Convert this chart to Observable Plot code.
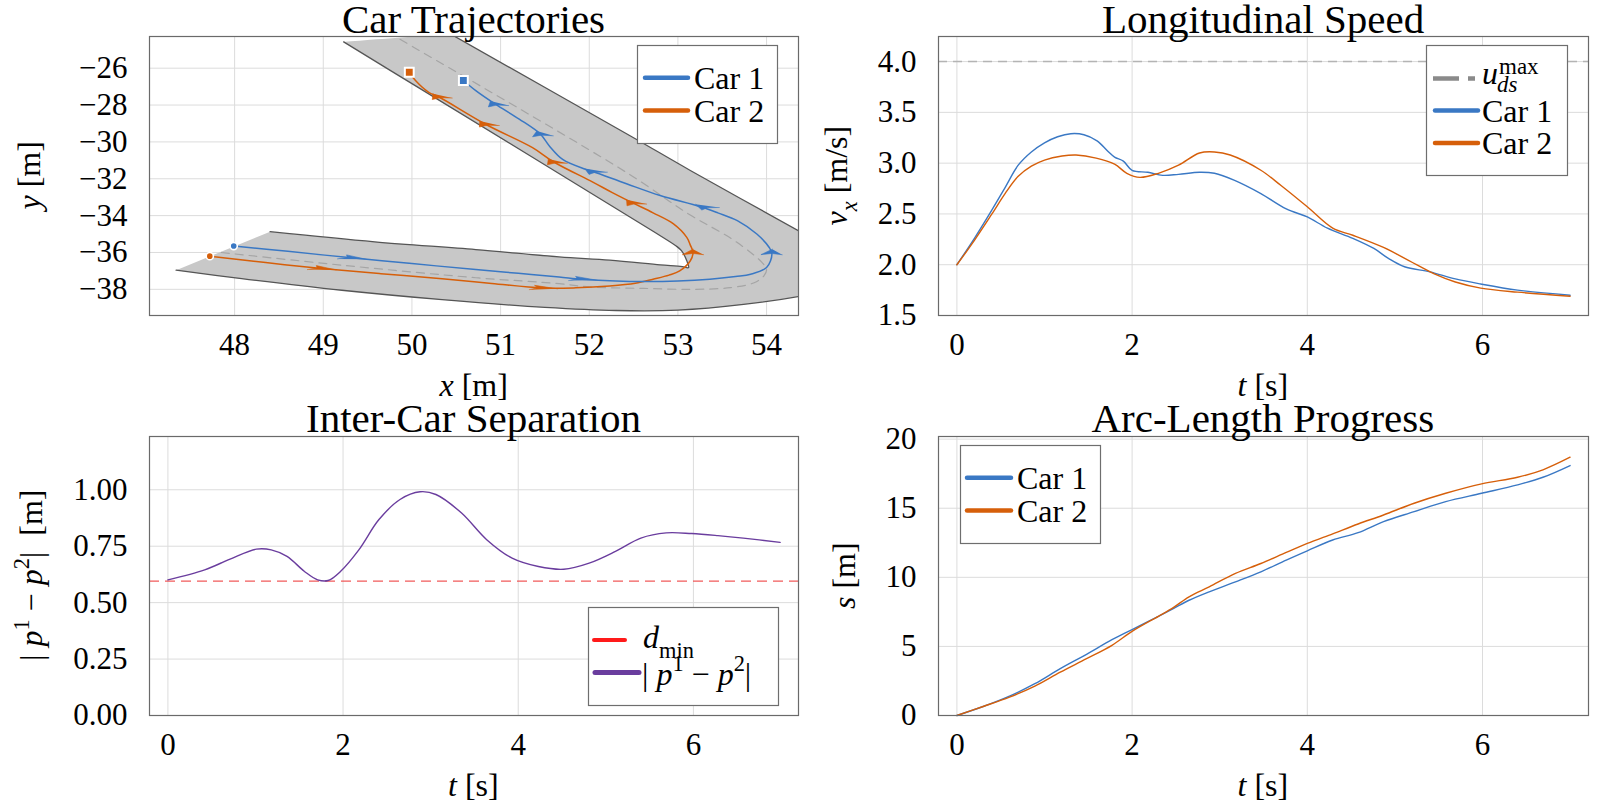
<!DOCTYPE html>
<html><head><meta charset="utf-8">
<script src="https://cdn.jsdelivr.net/npm/d3@7"></script>
<script src="https://cdn.jsdelivr.net/npm/@observablehq/plot@0.6"></script>
<style>
body{margin:0;background:#fff}
#root{position:relative;width:1600px;height:800px;overflow:hidden;background:#fff;font-family:"Liberation Serif",serif}
.ht{position:absolute;left:0;top:0;white-space:nowrap;line-height:1;transform-origin:0 0;color:#000}
.ht sub,.ht sup{font-size:70%;line-height:0}
</style></head>
<body><div id="root"></div>
<script>
// ---------------- DATA ----------------
// Road geometry (m)
const roadOuterX = [47.34, 48.08, 49.21, 50.34, 51.5, 52.3, 53.0, 53.74, 54.39, 55.0, 55.2, 55.0, 54.7, 54.39, 53.14, 52.47, 50.43];
const roadOuterY = [-36.96, -37.42, -38.05, -38.56, -38.98, -39.15, -39.13, -38.82, -38.36, -37.7, -36.8, -36.2, -35.74, -34.9, -31.55, -29.69, -24.13];
const roadInnerX = [48.4, 49.58, 50.72, 51.66, 52.23, 52.8, 53.05, 53.12, 53.1, 53.04, 52.98, 52.72, 50.0, 49.23];
const roadInnerY = [-34.87, -35.42, -35.84, -36.24, -36.42, -36.67, -36.77, -36.82, -36.45, -35.9, -35.65, -34.85, -26.84, -24.57];
const centerX = [47.85, 49.21, 50.72, 51.66, 52.0, 52.61, 53.17, 53.59, 53.86, 53.97, 54.0, 53.95, 53.82, 53.58, 53.12, 52.43, 49.83, 49.75];
const centerY = [-36.0, -36.69, -37.37, -37.69, -37.87, -37.95, -38.0, -37.91, -37.64, -37.27, -36.91, -36.55, -36.0, -35.18, -33.91, -31.69, -24.33, -24.1];
// Trajectories
const car1X = [47.99, 48.6, 49.32, 50.0, 50.72, 51.2, 51.66, 51.92, 52.3, 52.61, 53.0, 53.36, 53.65, 53.82, 54.0, 54.06, 54.03, 53.89, 53.67, 53.45, 53.25, 52.8, 52.42, 52.04, 51.96, 51.7, 51.55, 51.45, 51.21, 50.94, 50.72, 50.58];
const car1Y = [-35.65, -35.94, -36.29, -36.6, -36.93, -37.13, -37.33, -37.45, -37.55, -37.58, -37.55, -37.45, -37.3, -37.18, -36.82, -36.09, -35.73, -35.0, -34.27, -33.85, -33.51, -32.91, -32.27, -31.61, -31.49, -30.95, -30.22, -29.58, -28.76, -27.95, -27.22, -26.67];
const car2X = [47.72, 48.35, 48.98, 49.65, 50.34, 50.9, 51.47, 51.85, 52.23, 52.52, 52.72, 52.9, 53.02, 53.14, 53.17, 53.14, 53.1, 52.95, 52.72, 52.49, 52.26, 52.04, 51.6, 51.36, 50.83, 50.3, 50.19, 50.04, 49.97];
const car2Y = [-36.2, -36.55, -36.87, -37.15, -37.42, -37.68, -37.93, -37.92, -37.82, -37.67, -37.45, -37.23, -37.0, -36.45, -36.0, -35.6, -35.18, -34.45, -33.85, -33.31, -32.75, -32.18, -31.09, -30.31, -29.04, -27.55, -27.31, -26.67, -26.22];
const arrows1X = [49.32, 51.92, 54.06, 53.3, 52.04, 51.45, 50.94];
const arrows1Y = [-36.29, -37.45, -36.0, -33.53, -31.6, -29.58, -27.95];
const arrows2X = [48.98, 51.47, 53.17, 52.49, 51.6, 50.83, 50.3];
const arrows2Y = [-36.87, -37.93, -36.0, -33.31, -31.09, -29.04, -27.55];
// Longitudinal speed
const speedT1 = [0, 0.2, 0.4, 0.55, 0.7, 0.85, 1.0, 1.15, 1.3, 1.45, 1.6, 1.72, 1.8, 1.9, 2.0, 2.18, 2.35, 2.53, 2.77, 2.94, 3.17, 3.47, 3.76, 4.0, 4.23, 4.52, 4.76, 4.93, 5.11, 5.4, 5.69, 5.98, 6.4, 7.0];
const speedV1 = [2.0, 2.26, 2.54, 2.76, 2.98, 3.11, 3.2, 3.26, 3.29, 3.28, 3.22, 3.12, 3.06, 3.02, 2.93, 2.91, 2.88, 2.89, 2.91, 2.9, 2.83, 2.7, 2.55, 2.47, 2.36, 2.26, 2.16, 2.06, 1.98, 1.93, 1.86, 1.81, 1.75, 1.70];
const speedT2 = [0, 0.2, 0.4, 0.55, 0.7, 0.85, 1.0, 1.2, 1.36, 1.59, 1.8, 1.94, 2.09, 2.3, 2.53, 2.77, 2.94, 3.12, 3.47, 3.7, 4.0, 4.29, 4.52, 4.87, 5.16, 5.45, 5.69, 5.98, 6.4, 7.0];
const speedV2 = [2.0, 2.24, 2.5, 2.7, 2.87, 2.97, 3.03, 3.07, 3.08, 3.05, 2.99, 2.9, 2.86, 2.9, 2.98, 3.10, 3.11, 3.08, 2.93, 2.78, 2.57, 2.36, 2.29, 2.17, 2.04, 1.91, 1.83, 1.77, 1.73, 1.69];
const uMax = 4.0;
// Inter-car separation
const sepT = [0, 0.42, 0.71, 1.01, 1.18, 1.36, 1.56, 1.71, 1.83, 1.97, 2.18, 2.41, 2.65, 2.88, 3.06, 3.35, 3.64, 3.93, 4.23, 4.52, 4.81, 5.11, 5.4, 5.69, 5.98, 6.28, 6.57, 6.99];
const sepD = [0.601, 0.645, 0.693, 0.737, 0.734, 0.705, 0.638, 0.601, 0.598, 0.638, 0.734, 0.868, 0.957, 0.991, 0.979, 0.898, 0.779, 0.697, 0.660, 0.648, 0.675, 0.727, 0.786, 0.809, 0.806, 0.797, 0.786, 0.767];
const dMin = 0.595;
// Arc-length progress
const arcT1 = [0, 0.3, 0.6, 0.89, 1.18, 1.48, 1.77, 2.0, 2.3, 2.47, 2.65, 2.88, 3.18, 3.47, 3.76, 4.0, 4.29, 4.58, 4.87, 5.22, 5.58, 5.99, 6.4, 6.69, 7.0];
const arcS1 = [0, 0.65, 1.4, 2.3, 3.39, 4.43, 5.49, 6.22, 7.18, 7.74, 8.34, 8.95, 9.67, 10.4, 11.25, 11.92, 12.7, 13.23, 14.03, 14.75, 15.48, 16.08, 16.69, 17.24, 18.09];
const arcT2 = [0, 0.3, 0.6, 0.89, 1.18, 1.48, 1.77, 2.0, 2.3, 2.47, 2.65, 2.88, 3.18, 3.47, 3.76, 4.0, 4.29, 4.58, 4.87, 5.22, 5.58, 5.99, 6.4, 6.69, 7.0];
const arcS2 = [0, 0.65, 1.33, 2.13, 3.14, 4.11, 5.08, 6.09, 7.18, 7.81, 8.59, 9.31, 10.28, 11.0, 11.8, 12.45, 13.15, 13.86, 14.51, 15.36, 16.08, 16.76, 17.24, 17.78, 18.69];
// Ticks
const trajXTicks = [48, 49, 50, 51, 52, 53, 54];
const trajYTicks = [-26, -28, -30, -32, -34, -36, -38];
const timeTicks = [0, 2, 4, 6];
const speedTicks = [1.5, 2.0, 2.5, 3.0, 3.5, 4.0];
const sepTicks = [0, 0.25, 0.5, 0.75, 1.0];
const arcTicks = [0, 5, 10, 15, 20];

// ---------------- STYLE ----------------
const FONT = '"Liberation Serif", serif';
const BLUE = "#3a78c4", ORANGE = "#d65f0a", PURPLE = "#6a3d9e", RED = "#f04848";
const root = document.getElementById("root");
const zip = (xs, ys, k = {}) => xs.map((x, i) => ({x, y: ys[i], ...k}));

function panel(L, T, W, H, opts) {
  const ml = 130, mr = 12, mt = 12, mb = 70;
  const svg = Plot.plot({
    width: W + ml + mr, height: H + mt + mb,
    marginLeft: ml, marginRight: mr, marginTop: mt, marginBottom: mb,
    style: {fontFamily: FONT, fontSize: "31px", background: "transparent", overflow: "visible"},
    ...opts
  });
  const d = document.createElement("div");
  d.style.cssText = `position:absolute;left:${L - ml}px;top:${T - mt}px`;
  d.appendChild(svg);
  root.appendChild(d);
}
function baseMarks(xt, yt, yfmt) {
  return {
    under: [
      Plot.gridX(xt, {stroke: "#dcdcdc", strokeOpacity: 1, strokeWidth: 1}),
      Plot.gridY(yt, {stroke: "#dcdcdc", strokeOpacity: 1, strokeWidth: 1})
    ],
    over: [
      Plot.frame({stroke: "#6a6a6a", strokeWidth: 1.2}),
      Plot.axisX(xt, {tickSize: 0, tickPadding: 17, label: null, fontSize: 31}),
      Plot.axisY(yt, {tickSize: 0, tickPadding: 22, label: null, fontSize: 31, tickFormat: yfmt})
    ]
  };
}

// ---- arrowheads (triangles in data space, oriented along path) ----
function arrowPolys(px, py, ax, ay, id) {
  const out = [], L = 0.3, Wd = 0.12;
  ax.forEach((x0, k) => {
    const y0 = ay[k];
    let best = 0, bd = Infinity;
    px.forEach((x, i) => { const d = (x - x0) ** 2 + (py[i] - y0) ** 2; if (d < bd) { bd = d; best = i; } });
    const i0 = Math.max(0, best - 1), i1 = Math.min(px.length - 1, best + 1);
    let dx = px[i1] - px[i0], dy = py[i1] - py[i0];
    const n = Math.hypot(dx, dy); dx /= n; dy /= n;
    const nx = -dy, ny = dx;
    [[0.6, 0], [-0.4, 1], [-0.18, 0], [-0.4, -1]].forEach(([a, b]) =>
      out.push({x: x0 + dx * L * a + nx * Wd * b, y: y0 + dy * L * a + ny * Wd * b, g: id + k}));
  });
  return out;
}

// ---------------- PANEL 1: Car trajectories ----------------
{
  const outer = zip(roadOuterX, roadOuterY), inner = zip(roadInnerX, roadInnerY);
  const innerRev = inner.slice().reverse();
  const poly = [outer[0], ...outer, outer[outer.length - 1], innerRev[0], ...innerRev, innerRev[innerRev.length - 1]];
  const b = baseMarks(trajXTicks, trajYTicks, d3.format("d"));
  const c1 = zip(car1X, car1Y), c2 = zip(car2X, car2Y);
  panel(149, 36, 649, 279, {
    x: {domain: [47.04, 54.36]},
    y: {domain: [-39.42, -24.28]},
    marks: [
      ...b.under,
      Plot.line(poly, {x: "x", y: "y", fill: "#c8c8c8", stroke: "none", curve: "catmull-rom", clip: true}),
      Plot.line(outer, {x: "x", y: "y", stroke: "#555", strokeWidth: 1.3, curve: "catmull-rom", clip: true}),
      Plot.line(inner, {x: "x", y: "y", stroke: "#555", strokeWidth: 1.3, curve: "catmull-rom", clip: true}),
      Plot.line(zip(centerX, centerY), {x: "x", y: "y", stroke: "#a5a5a5", strokeWidth: 1.2, strokeDasharray: "8,6", curve: "catmull-rom", clip: true}),
      Plot.line(c2, {x: "x", y: "y", stroke: ORANGE, strokeWidth: 1.5, curve: "catmull-rom"}),
      Plot.line(c1, {x: "x", y: "y", stroke: BLUE, strokeWidth: 1.5, curve: "catmull-rom"}),
      Plot.line(arrowPolys(car2X, car2Y, arrows2X, arrows2Y, "o"), {x: "x", y: "y", z: "g", fill: ORANGE, stroke: ORANGE, strokeWidth: 0.6}),
      Plot.line(arrowPolys(car1X, car1Y, arrows1X, arrows1Y, "b"), {x: "x", y: "y", z: "g", fill: BLUE, stroke: BLUE, strokeWidth: 0.6}),
      Plot.dot([c1[0]], {x: "x", y: "y", r: 3.6, fill: BLUE, stroke: "white", strokeWidth: 1.6}),
      Plot.dot([c2[0]], {x: "x", y: "y", r: 3.6, fill: ORANGE, stroke: "white", strokeWidth: 1.6}),
      Plot.dot([c1[c1.length - 1]], {x: "x", y: "y", r: 5, symbol: "square", fill: BLUE, stroke: "white", strokeWidth: 2}),
      Plot.dot([c2[c2.length - 1]], {x: "x", y: "y", r: 5, symbol: "square", fill: ORANGE, stroke: "white", strokeWidth: 2}),
      ...b.over
    ]
  });
}

// ---------------- PANEL 2: Longitudinal speed ----------------
{
  const b = baseMarks(timeTicks, speedTicks, d3.format(".1f"));
  panel(938, 36, 650, 279, {
    x: {domain: [-0.21, 7.21]},
    y: {domain: [1.5, 4.247]},
    marks: [
      ...b.under,
      Plot.ruleY([uMax], {stroke: "#b4b4b4", strokeWidth: 1.5, strokeDasharray: "9,6"}),
      Plot.line(zip(speedT1, speedV1), {x: "x", y: "y", stroke: BLUE, strokeWidth: 1.4, curve: "catmull-rom"}),
      Plot.line(zip(speedT2, speedV2), {x: "x", y: "y", stroke: ORANGE, strokeWidth: 1.4, curve: "catmull-rom"}),
      ...b.over
    ]
  });
}

// ---------------- PANEL 3: Inter-car separation ----------------
{
  const b = baseMarks(timeTicks, sepTicks, d3.format(".2f"));
  panel(149, 436, 649, 279, {
    x: {domain: [-0.21, 7.2]},
    y: {domain: [0, 1.236]},
    marks: [
      ...b.under,
      Plot.ruleY([dMin], {stroke: RED, strokeWidth: 1.3, strokeDasharray: "10,6", strokeOpacity: 0.9}),
      Plot.line(zip(sepT, sepD), {x: "x", y: "y", stroke: PURPLE, strokeWidth: 1.4, curve: "catmull-rom"}),
      ...b.over
    ]
  });
}

// ---------------- PANEL 4: Arc-length progress ----------------
{
  const b = baseMarks(timeTicks, arcTicks, d3.format("d"));
  panel(938, 436, 650, 279, {
    x: {domain: [-0.21, 7.21]},
    y: {domain: [0, 20.19]},
    marks: [
      ...b.under,
      Plot.line(zip(arcT1, arcS1), {x: "x", y: "y", stroke: BLUE, strokeWidth: 1.4, curve: "catmull-rom"}),
      Plot.line(zip(arcT2, arcS2), {x: "x", y: "y", stroke: ORANGE, strokeWidth: 1.4, curve: "catmull-rom"}),
      ...b.over
    ]
  });
}

// ---------------- LEGEND BOXES / SAMPLES (svg overlay, no text) ----------------
const ov = d3.select(root).append("svg").attr("width", 1600).attr("height", 800)
  .style("position", "absolute").style("left", "0px").style("top", "0px");
function box(x, y, w, h) {
  ov.append("rect").attr("x", x + 0.5).attr("y", y + 0.5).attr("width", w).attr("height", h)
    .attr("fill", "white").attr("stroke", "#6e6e6e").attr("stroke-width", 1.2);
}
function sample(x1, x2, y, color, dash = null, w = 4.5) {
  const l = ov.append("line").attr("x1", x1).attr("x2", x2).attr("y1", y).attr("y2", y)
    .attr("stroke", color).attr("stroke-width", w).attr("stroke-linecap", dash ? "butt" : "round");
  if (dash) l.attr("stroke-dasharray", dash);
}
box(637, 45, 140, 98);
sample(645, 688, 77.7, BLUE); sample(645, 688, 110.5, ORANGE);
box(1426, 45, 141, 130);
sample(1433, 1478, 78.4, "#8a8a8a", "26,9,7"); sample(1435, 1478, 110.5, BLUE); sample(1435, 1478, 143, ORANGE);
box(588, 607, 190, 98);
sample(594, 625, 640, "#ff1a1a", null, 4); sample(595, 639, 672.6, PURPLE, null, 5);
box(960, 445, 140, 98);
sample(967, 1011, 477.7, BLUE); sample(967, 1011, 510.5, ORANGE);

// ---------------- HTML TEXT (baseline-positioned) ----------------
const ASC = 0.8375; // baseline offset inside a line-height:1 box for Liberation Serif
function htext(x, y, html, size, anchor = "start", rot = 0) {
  const d = document.createElement("div");
  d.className = "ht";
  d.style.fontSize = size + "px";
  d.style.fontFamily = FONT;
  d.innerHTML = html;
  root.appendChild(d);
  const w = d.offsetWidth;
  const ax = anchor === "middle" ? w / 2 : anchor === "end" ? w : 0;
  d.style.transform = rot
    ? `translate(${x}px,${y}px) rotate(${rot}deg) translate(${-ax}px,${-ASC * size}px)`
    : `translate(${x - ax}px,${y - ASC * size}px)`;
  return d;
}
const sub = (s, size, it = false) => `<sub style="vertical-align:${-0.3 * size}px">${it ? "<i>" + s + "</i>" : s}</sub>`;
const sup = (s, size) => `<sup style="vertical-align:${0.42 * size}px">${s}</sup>`;
const pDiff = `|&nbsp;<i>p</i>${sup("1", 32)}&nbsp;−&nbsp;<i>p</i>${sup("2", 32)}|`;

// titles
htext(473.5, 33, "Car Trajectories", 41, "middle");
htext(1263, 33, "Longitudinal Speed", 41, "middle");
htext(473.5, 432, "Inter-Car Separation", 41, "middle");
htext(1263, 432, "Arc-Length Progress", 41, "middle");
// x labels
htext(473.5, 396, "<i>x</i>&nbsp;[m]", 32, "middle");
htext(1263, 396, "<i>t</i>&nbsp;[s]", 32, "middle");
htext(473.5, 796, "<i>t</i>&nbsp;[s]", 32, "middle");
htext(1263, 796, "<i>t</i>&nbsp;[s]", 32, "middle");
// y labels
htext(40, 175.5, "<i>y</i>&nbsp;[m]", 32, "middle", -90);
htext(847, 175.5, `<i>v</i>${sub("x", 32, true)}&nbsp;[m/s]`, 32, "middle", -90);
htext(42, 575.5, `${pDiff}&nbsp;&nbsp;[m]`, 32, "middle", -90);
htext(855, 575.5, "<i>s</i>&nbsp;[m]", 32, "middle", -90);
// legend texts
htext(694, 88.5, "Car 1", 32); htext(694, 121.3, "Car 2", 32);
{
  const u = htext(1482, 84, "<i>u</i>", 32);
  const w = Math.min(18, u.offsetWidth);
  htext(1482 + w + 1, 74, "max", 23);
  htext(1482 + w - 1, 92, "<i>ds</i>", 23);
}
htext(1482, 121.3, "Car 1", 32); htext(1482, 153.8, "Car 2", 32);
htext(643, 648, `<i>d</i>${sub("min", 32)}`, 32);
htext(642, 684.5, pDiff, 32);
htext(1017, 488.5, "Car 1", 32); htext(1017, 521.3, "Car 2", 32);
</script>
</body></html>
